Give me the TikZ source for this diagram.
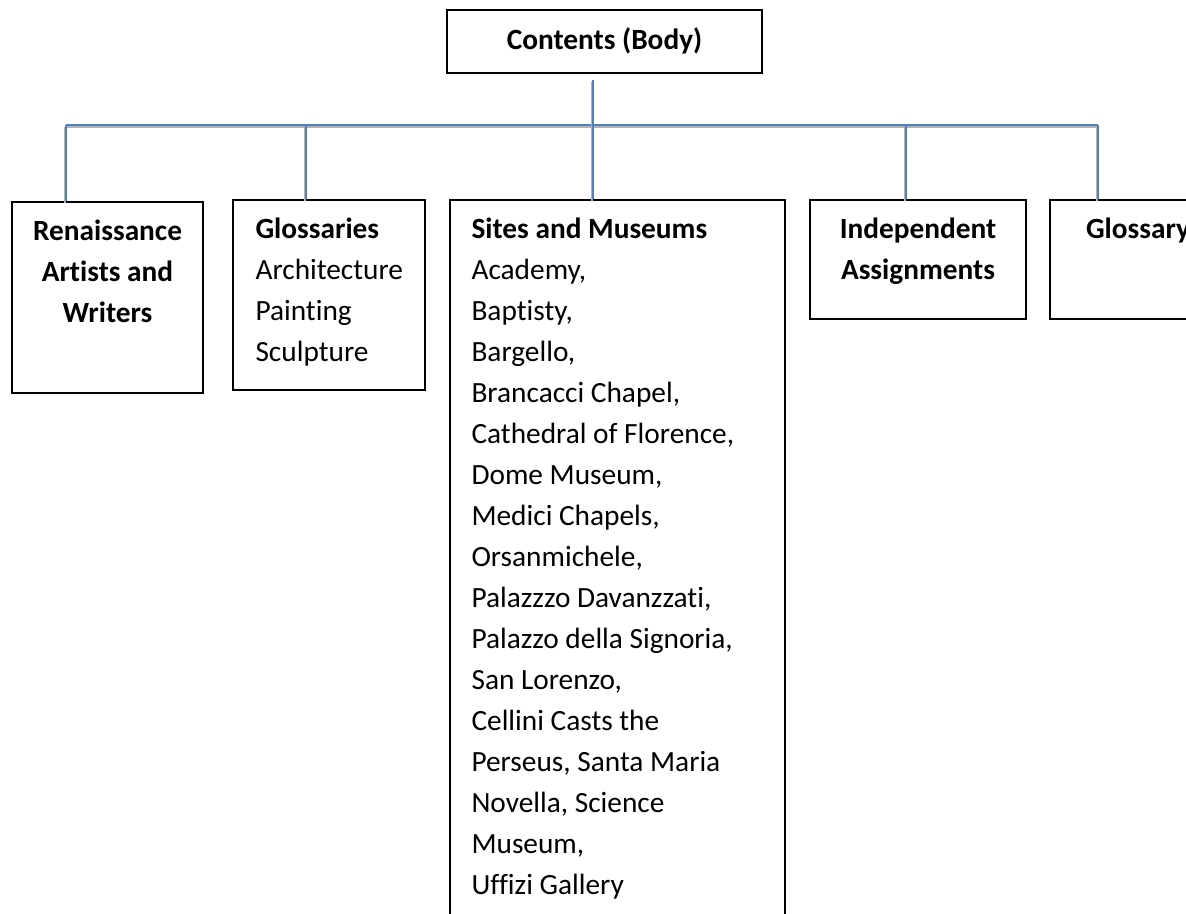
\documentclass[tikz,border=0pt]{standalone}
\usepackage{fontspec}
\setmainfont{Carlito}[Ligatures=CommonOff]
\usetikzlibrary{positioning,fit}
\definecolor{linkblue}{RGB}{79,129,189}
\tikzset{
 box/.style
  = {rectangle, draw, line width=0.75pt, inner sep=0pt},
 hdr/.style
  = {inner sep=0pt, align=center, font=\fontsize{11}{15.375}\selectfont\bfseries},
 lst/.style
  = {inner sep=0pt, align=left, font=\fontsize{11}{15.375}\selectfont},
 link/.style
  = {draw=linkblue, line width=0.9pt,
     preaction={draw=black!30, line width=0.8pt,
                transform canvas={xshift=-0.35pt, yshift=-0.9pt}}},
}

\begin{document}
\begin{tikzpicture}[x=0.375pt, y=-0.375pt]

\useasboundingbox (0,0) rectangle (1186,914);
\clip (0,0) rectangle (1186,914);

% Top box
\node[box, fit={(447,10) (762,73)}] (contents) {};
\node[hdr, anchor=base] (contents-txt) at (contents.center |- 0,49)
  {Contents (Body)};

% Boxes of the second level
\node[box, fit={(12,202) (203,393)}] (artists) {};
\node[box, fit={(233,200) (425,390)}] (glossaries) {};
\node[box, fit={(450,200) (785,940)}] (sites) {};
\node[box, fit={(810,200) (1026,319)}] (tasks) {};
\node[box, fit={(1050,200) (1226,319)}] (glossary) {};

% Texts in the boxes (base = last line)
\node[hdr, anchor=base] (artists-txt) at (artists.center |- 0,322)
  {Renaissance\\Artists and\\Writers};
\node[lst, anchor=base west] (glossaries-txt) at (255,361)
  {\textbf{Glossaries}\\Architecture\\Painting\\Sculpture};
\node[lst, anchor=base west] (sites-txt) at (471,894)
  {\textbf{Sites and Museums}\\Academy,\\Baptisty,\\Bargello,\\
   Brancacci Chapel,\\Cathedral of Florence,\\Dome Museum,\\
   Medici Chapels,\\Orsanmichele,\\Palazzzo Davanzzati,\\
   Palazzo della Signoria,\\San Lorenzo,\\Cellini Casts the\\
   Perseus, Santa Maria\\Novella, Science\\Museum,\\Uffizi Gallery};
\node[hdr, anchor=base] (tasks-txt) at (tasks.center |- 0,279)
  {Independent\\Assignments};
\node[hdr, anchor=base] (glossary-txt) at (glossary.center |- 0,238)
  {Glossary};

% Connectors
\coordinate (hub) at (593,125);
\draw[link] (66,125) -- (1098,125);
\draw[link, shorten <=2.25pt] (contents.south -| hub) -- (hub |- sites.north);
\foreach \x/\b in {66/artists, 306/glossaries, 906/tasks, 1098/glossary}
  \draw[link] (\x,125) coordinate (tap-\b) -- (tap-\b |- \b.north);

\end{tikzpicture}
\end{document}
